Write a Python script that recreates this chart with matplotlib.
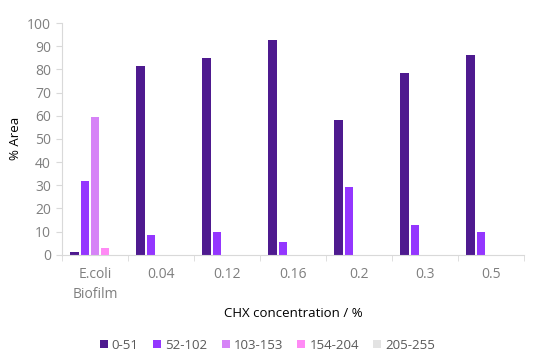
import matplotlib
matplotlib.use("Agg")
import matplotlib.pyplot as plt
import numpy as np

categories = ["E.coli\nBiofilm", "0.04", "0.12", "0.16", "0.2", "0.3", "0.5"]
series_names = ["0-51", "52-102", "103-153", "154-204", "205-255"]
s_0_51 = [1.0, 81.3, 84.7, 92.8, 58.0, 78.3, 86.3]
s_52_102 = [32.0, 8.5, 9.6, 5.6, 29.3, 12.8, 9.6]
s_103_153 = [59.5, 0, 0, 0, 0, 0, 0]
s_154_204 = [2.8, 0, 0, 0, 0, 0, 0]
s_205_255 = [0, 0, 0, 0, 0, 0, 0]
series = [s_0_51, s_52_102, s_103_153, s_154_204, s_205_255]
colors = ["#4E1A8F", "#9436FF", "#D683F7", "#FF8AF5", "#E3E3E3"]

plt.rcParams["font.family"] = ["Open Sans", "DejaVu Sans"]

fig = plt.figure(figsize=(5.35, 3.56), dpi=100)
ax = fig.add_axes([62 / 535, 101.3 / 356, 462 / 535, 231.7 / 356])

n = len(categories)
x = np.arange(n)
step = 0.155
width = 0.125
for i, (vals, name, c) in enumerate(zip(series, series_names, colors)):
    offs = (i - 2) * step
    ax.bar(x + offs, vals, width=width, color=c, label=name, linewidth=0)

ax.set_xlim(-0.5, n - 0.5)
ax.set_ylim(0, 100)
ax.set_yticks(np.arange(0, 101, 10))
ax.set_xticks(x)
ax.set_xticklabels(categories, linespacing=1.4)
ax.set_xticks(np.arange(-0.5, n, 1), minor=True)

grey = "#D9D9D9"
for side in ["top", "right"]:
    ax.spines[side].set_visible(False)
ax.spines["left"].set_color(grey)
ax.spines["bottom"].set_color(grey)
ax.tick_params(axis="y", colors=grey, labelcolor="#7F7F7F", labelsize=10, length=4, pad=4)
ax.tick_params(axis="x", which="major", length=0, labelcolor="#7F7F7F", labelsize=10, pad=9)
ax.tick_params(axis="x", which="minor", length=4, color=grey)

ax.set_ylabel("% Area", fontsize=9.5, color="#000000")
ax.yaxis.label.set_va("center")
ax.yaxis.set_label_coords(-0.1, 0.5)
ax.set_xlabel("CHX concentration / %", fontsize=9.5, color="#000000")
ax.xaxis.label.set_va("center")
ax.xaxis.set_label_coords(0.5, -0.252)

leg = fig.legend(loc="center", bbox_to_anchor=(0.5, 0.03), ncol=5, frameon=False,
                 fontsize=9.5, handlelength=0.6, handleheight=0.6, handletextpad=0.3,
                 columnspacing=1.1)
for t in leg.get_texts():
    t.set_color("#595959")

fig.savefig("out.png", dpi=100)
